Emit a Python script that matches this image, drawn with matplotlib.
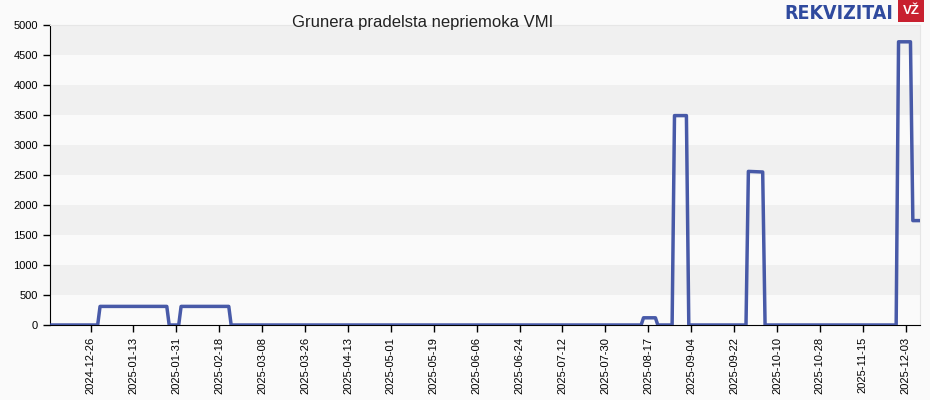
import numpy as np
import pandas as pd
import matplotlib
matplotlib.use('Agg')
import matplotlib.pyplot as plt
import matplotlib.dates as mdates

plt.rcParams['font.family'] = ['Liberation Sans', 'DejaVu Sans']

# breakpoints of the series (value holds between consecutive points)
dates = ['2024-12-09', '2024-12-29', '2024-12-30', '2025-01-27', '2025-01-28',
         '2025-02-01', '2025-02-02', '2025-02-22', '2025-02-23', '2025-08-14',
         '2025-08-15', '2025-08-20', '2025-08-21', '2025-08-27', '2025-08-28',
         '2025-09-02', '2025-09-03', '2025-09-27', '2025-09-28', '2025-10-04',
         '2025-10-05', '2025-11-29', '2025-11-30', '2025-12-05', '2025-12-06',
         '2025-12-09']
values = [0, 0, 310, 310, 0,
          0, 310, 310, 0, 0,
          120, 120, 0, 0, 3490,
          3490, 0, 0, 2560, 2550,
          0, 0, 4720, 4720, 1740,
          1740]
tick_dates = ['2024-12-26', '2025-01-13', '2025-01-31', '2025-02-18', '2025-03-08',
              '2025-03-26', '2025-04-13', '2025-05-01', '2025-05-19', '2025-06-06',
              '2025-06-24', '2025-07-12', '2025-07-30', '2025-08-17', '2025-09-04',
              '2025-09-22', '2025-10-10', '2025-10-28', '2025-11-15', '2025-12-03']
title = 'Grunera pradelsta nepriemoka VMI'

x = pd.to_datetime(dates)
ticks = pd.to_datetime(tick_dates)

fig = plt.figure(figsize=(9.3, 4.0), dpi=100, facecolor='#fafafa')
ax = fig.add_axes([50/930, 75/400, 870/930, 300/400])
ax.set_facecolor('#fafafa')

# alternating bands
for lo in range(0, 5000, 500):
    if (lo // 500) % 2 == 1:
        ax.axhspan(lo, lo + 500, color='#f0f0f0', lw=0, zorder=0)

ax.plot(x, values, color='#34489f', lw=2.5, alpha=0.9, solid_joinstyle='round', zorder=3)

ax.set_xlim(x[0], x[-1])
ax.set_ylim(0, 5000)
ax.set_yticks(np.arange(0, 5001, 500))
ax.set_xticks(ticks)
ax.xaxis.set_major_formatter(mdates.DateFormatter('%Y-%m-%d'))
plt.setp(ax.get_xticklabels(), rotation=90)
ax.tick_params(axis='both', labelsize=8, length=5, width=1, color='black')

for s in ['top', 'right']:
    ax.spines[s].set_color('#e6e6e6')
for s in ['left', 'bottom']:
    ax.spines[s].set_color('black')

fig.text(423/930, 1 - 22/400, title, ha='center', va='center', fontsize=12, color='#222222')

# logo
fig.text(893/930, 1 - 19/400, 'REKVIZITAI', ha='right', va='baseline', fontsize=14,
         fontweight='bold', fontstretch='condensed', family='DejaVu Sans', color='#2f4a9e')
fig.text(911/930, 1 - 11/400, 'VŽ', ha='center', va='center', fontsize=9.5, fontweight='bold',
         color='white', bbox=dict(boxstyle='square,pad=0.35', fc='#c8202f', ec='none'))

plt.savefig('out.png', dpi=100, facecolor=fig.get_facecolor())
